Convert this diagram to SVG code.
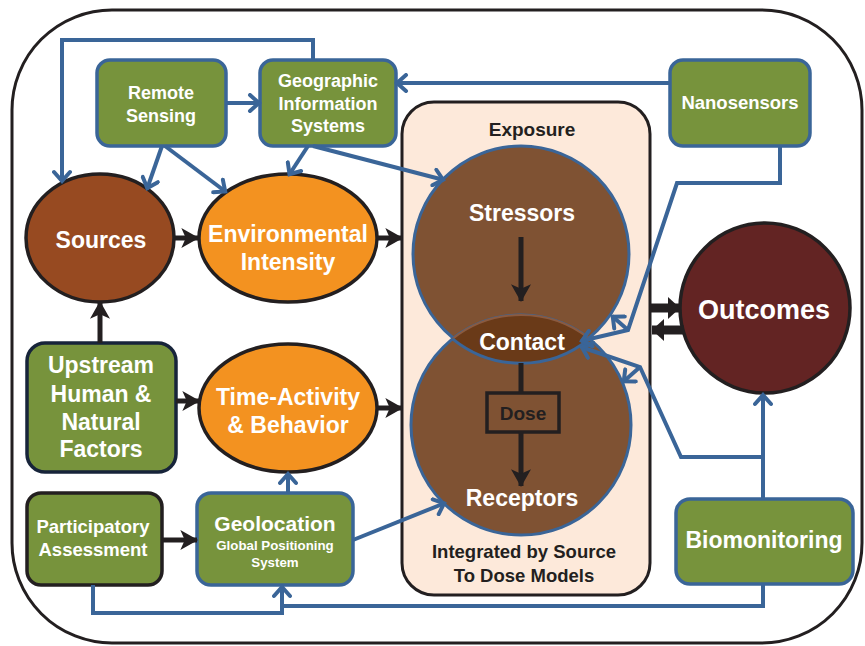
<svg xmlns="http://www.w3.org/2000/svg" width="865" height="646" viewBox="0 0 865 646">
<style>
text{font-family:"Liberation Sans",Arial,sans-serif;font-weight:bold;text-anchor:middle;fill:#fff}
.dk{fill:#231F20}
.box{fill:#77933C;stroke:#3A6598;stroke-width:3.5}
.blk{stroke:#231F20;stroke-width:5;fill:none}
.blu{stroke:#3A6598;stroke-width:4;fill:none;stroke-linejoin:miter}
.ell{stroke:#231F20;stroke-width:3.5}
</style>
<defs>
<marker id="ab" markerUnits="userSpaceOnUse" markerWidth="20" markerHeight="20" viewBox="0 0 16 18" refX="15" refY="9" orient="auto">
<path d="M0,0 L16,9 L0,18 L4,9 Z" fill="#231F20"/>
</marker>
<marker id="abig" markerUnits="userSpaceOnUse" markerWidth="14" markerHeight="22" viewBox="0 0 12 22" refX="12" refY="11" orient="auto">
<path d="M0,0 L12,11 L0,22 Z" fill="#231F20"/>
</marker>
<marker id="au" markerUnits="userSpaceOnUse" markerWidth="20" markerHeight="20" viewBox="0 0 20 20" refX="16" refY="10" orient="auto">
<path d="M6,2 L15,10 L6,18" fill="none" stroke="#3A6598" stroke-width="4" stroke-linecap="round"/>
</marker>
</defs>

<rect x="12" y="10" width="850" height="633" rx="100" fill="#fff" stroke="#231F20" stroke-width="3"/>

<g id="exposure">
<rect x="402" y="102" width="248" height="493" rx="32" fill="#FDE9DA" stroke="#231F20" stroke-width="3"/>
<text class="dk" x="532" y="136" font-size="19">Exposure</text>
<text class="dk" x="524" y="558" font-size="18.5">Integrated by Source</text>
<text class="dk" x="524" y="582" font-size="18.5">To Dose Models</text>
</g>

<g id="stressors">
<circle cx="521" cy="254" r="108" fill="#7F5233" stroke="#3A6598" stroke-width="3"/>
<text x="522" y="221" font-size="23">Stressors</text>
</g>
<g id="receptors">
<circle cx="521" cy="425" r="110" fill="#7F5233" stroke="#3A6598" stroke-width="3"/>
<text x="522" y="506" font-size="23">Receptors</text>
</g>
<g id="contact">
<path d="M452.6,338.9 A108,108 0 0 0 589.4,338.9 A110,110 0 0 0 452.6,338.9 Z" fill="#6A3A18"/>
<path d="M589.4,338.9 A110,110 0 0 0 452.6,338.9" fill="none" stroke="#8A5A40" stroke-width="2"/>
<path d="M452.6,338.9 A108,108 0 0 0 589.4,338.9" fill="none" stroke="#3A6598" stroke-width="3"/>
<text x="522" y="350" font-size="23">Contact</text>
</g>
<g id="dose">
<rect x="487" y="393" width="72" height="39" fill="none" stroke="#231F20" stroke-width="3.5"/>
<text class="dk" x="523" y="420" font-size="19">Dose</text>
</g>

<g id="remote-sensing">
<rect class="box" x="97" y="60" width="129" height="86" rx="13"/>
<text x="161" y="99" font-size="18">Remote</text>
<text x="161" y="122" font-size="18">Sensing</text>
</g>
<g id="gis">
<rect class="box" x="260" y="60" width="136" height="86" rx="13"/>
<text x="328" y="87" font-size="18">Geographic</text>
<text x="328" y="110" font-size="18">Information</text>
<text x="328" y="132" font-size="18">Systems</text>
</g>
<g id="nanosensors">
<rect class="box" x="670" y="60" width="140" height="86" rx="13"/>
<text x="740" y="109" font-size="18.5">Nanosensors</text>
</g>
<g id="sources">
<ellipse class="ell" cx="100" cy="238" rx="74" ry="64" fill="#974A21"/>
<text x="101" y="248" font-size="23">Sources</text>
</g>
<g id="environmental-intensity">
<ellipse class="ell" cx="288" cy="238" rx="89" ry="64" fill="#F39220"/>
<text x="288" y="242" font-size="23">Environmental</text>
<text x="288" y="270" font-size="23">Intensity</text>
</g>
<g id="upstream">
<rect x="27" y="343" width="149" height="129" rx="18" fill="#77933C" stroke="#17243A" stroke-width="3.5"/>
<text x="101" y="373" font-size="23">Upstream</text>
<text x="101" y="402" font-size="23">Human &amp;</text>
<text x="101" y="430" font-size="23">Natural</text>
<text x="101" y="457" font-size="23">Factors</text>
</g>
<g id="time-activity">
<ellipse class="ell" cx="288" cy="408" rx="89" ry="64" fill="#F39220"/>
<text x="288" y="405" font-size="23">Time-Activity</text>
<text x="288" y="433" font-size="23">&amp; Behavior</text>
</g>
<g id="participatory">
<rect x="27" y="493" width="135" height="92" rx="14" fill="#77933C" stroke="#231F20" stroke-width="3.5"/>
<text x="93" y="533" font-size="18.5">Participatory</text>
<text x="93" y="556" font-size="18.5">Assessment</text>
</g>
<g id="geolocation">
<rect class="box" x="197" y="493" width="156" height="92" rx="14"/>
<text x="275" y="531" font-size="21">Geolocation</text>
<text x="275" y="550" font-size="13.3">Global Positioning</text>
<text x="275" y="567" font-size="13.3">System</text>
</g>
<g id="outcomes">
<circle cx="765" cy="308" r="85" fill="#632423" stroke="#231F20" stroke-width="3.5"/>
<text x="764" y="319" font-size="27">Outcomes</text>
</g>
<g id="biomonitoring">
<rect class="box" x="676" y="499" width="177" height="85" rx="14"/>
<text x="764" y="548" font-size="23">Biomonitoring</text>
</g>

<g id="connectors">
<line class="blk" x1="521" y1="237" x2="521" y2="301" marker-end="url(#ab)"/>
<line class="blk" x1="521" y1="363" x2="521" y2="393"/>
<line class="blk" x1="521" y1="432" x2="521" y2="486" marker-end="url(#ab)"/>
<line class="blk" x1="175" y1="238" x2="198" y2="238" marker-end="url(#ab)"/>
<line class="blk" x1="377" y1="238" x2="402" y2="238" marker-end="url(#ab)"/>
<line class="blk" x1="176" y1="401" x2="199" y2="401" marker-end="url(#ab)"/>
<line class="blk" x1="378" y1="408" x2="402" y2="408" marker-end="url(#ab)"/>
<line class="blk" x1="100" y1="343" x2="100" y2="302" marker-end="url(#ab)"/>
<line class="blk" x1="162" y1="540" x2="197" y2="540" marker-end="url(#ab)"/>
<line stroke="#231F20" stroke-width="9" x1="650" y1="308" x2="680" y2="308" marker-end="url(#abig)"/>
<line stroke="#231F20" stroke-width="9" x1="684" y1="330" x2="652" y2="330" marker-end="url(#abig)"/>

<polyline class="blu" points="313,60 313,40 62,40 62,182" marker-end="url(#au)"/>
<line class="blu" x1="226" y1="103" x2="260" y2="103" marker-end="url(#au)"/>
<line class="blu" x1="670" y1="83" x2="396" y2="83" marker-end="url(#au)"/>
<line class="blu" x1="162" y1="146" x2="147" y2="189" marker-end="url(#au)"/>
<line class="blu" x1="165" y1="146" x2="226" y2="192" marker-end="url(#au)"/>
<line class="blu" x1="308" y1="146" x2="289" y2="175" marker-end="url(#au)"/>
<line class="blu" x1="313" y1="146" x2="444" y2="180" marker-end="url(#au)"/>
<line class="blu" x1="353" y1="540" x2="445" y2="503" marker-end="url(#au)"/>
<line class="blu" x1="288" y1="493" x2="288" y2="473" marker-end="url(#au)"/>
<polyline class="blu" points="93,585 93,613 282,613 282,586" marker-end="url(#au)"/>
<polyline class="blu" points="763,584 763,606 282,606"/>
<line class="blu" x1="763" y1="499" x2="763" y2="394" marker-end="url(#au)"/>
<polyline class="blu" points="763,457 681,457 640,367 581,347" marker-end="url(#au)"/>
<line class="blu" x1="640" y1="367" x2="623" y2="382" marker-end="url(#au)"/>
<polyline class="blu" points="780,146 780,183 677,183 628,330 581,341" marker-end="url(#au)"/>
<line class="blu" x1="628" y1="330" x2="612" y2="316" marker-end="url(#au)"/>
</g>
</svg>
